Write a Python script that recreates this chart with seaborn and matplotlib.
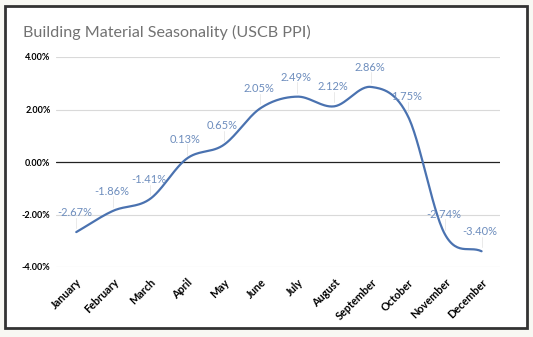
import numpy as np
import pandas as pd
import matplotlib
matplotlib.use("Agg")
import matplotlib.pyplot as plt
import seaborn as sns
from matplotlib.patches import Rectangle

months = ["January", "February", "March", "April", "May", "June", "July",
          "August", "September", "October", "November", "December"]
values = [-2.67, -1.86, -1.41, 0.13, 0.65, 2.05, 2.49, 2.12, 2.86, 1.75, -2.74, -3.40]
yticks = [-4, -2, 0, 2, 4]
ytick_labels = ["-4.00%", "-2.00%", "0.00%", "2.00%", "4.00%"]
title = "Building Material Seasonality (USCB PPI)"


def catmull_rom(x, y, n=30):
    x = np.asarray(x, float)
    y = np.asarray(y, float)
    px = np.concatenate([[2 * x[0] - x[1]], x, [2 * x[-1] - x[-2]]])
    py = np.concatenate([[2 * y[0] - y[1]], y, [2 * y[-1] - y[-2]]])
    xs, ys = [], []
    for i in range(1, len(px) - 2):
        t = np.linspace(0, 1, n, endpoint=(i == len(px) - 3))
        for p, out in ((px, xs), (py, ys)):
            p0, p1, p2, p3 = p[i - 1], p[i], p[i + 1], p[i + 2]
            out.append(0.5 * ((2 * p1) + (-p0 + p2) * t +
                              (2 * p0 - 5 * p1 + 4 * p2 - p3) * t ** 2 +
                              (-p0 + 3 * p1 - 3 * p2 + p3) * t ** 3))
    return np.concatenate(xs), np.concatenate(ys)


sns.set_theme(style="white")
plt.rcParams["font.family"] = ["Lato", "DejaVu Sans"]

fig = plt.figure(figsize=(5.33, 3.37), dpi=100)
fig.patch.set_facecolor("#f8f8f3")
fig.patches.append(Rectangle((5 / 533, 1 - 328 / 337), 522 / 533, 322 / 337,
                             transform=fig.transFigure, facecolor="white",
                             edgecolor="#333333", linewidth=2, zorder=-10))

ax = fig.add_axes([56 / 533, 1 - 267 / 337, 444 / 533, 210 / 337])
ax.set_zorder(5)
ax.set_facecolor("white")

xi = np.arange(len(months))
sx, sy = catmull_rom(xi, values)
df = pd.DataFrame({"x": sx, "y": sy})
sns.lineplot(data=df, x="x", y="y", ax=ax, color="#4a72b0", linewidth=1.6,
             sort=False, estimator=None)

for i, v in enumerate(values):
    ax.plot([i, i], [v + 0.15, v + 0.55], color="#e6e6e6", linewidth=0.6, zorder=1)
    ax.annotate(f"{v:.2f}%", (i, v), xytext=(-1, 14), textcoords="offset points",
                ha="center", va="center", fontsize=8, color="#6d8dbd", zorder=3)

ax.set_xlim(-0.55, 11.5)
ax.set_ylim(-4, 4)
ax.set_yticks(yticks)
ax.set_yticklabels(ytick_labels, fontsize=6.5, color="black", fontweight="bold")
ax.set_xticks(xi)
ax.set_xticklabels(months, rotation=45, ha="right", rotation_mode="anchor",
                   fontsize=7.8, fontweight="bold", color="black")
ax.tick_params(axis="y", length=0, pad=4)
ax.tick_params(axis="x", length=0, pad=7)
for yv in yticks:
    if yv != 0:
        ax.axhline(yv, color="#d9d9d9", linewidth=0.8, zorder=0)
ax.axhline(0, color="#222222", linewidth=0.9, zorder=1)
for s in ax.spines.values():
    s.set_visible(False)
ax.set_xlabel("")
ax.set_ylabel("")

fig.text(23 / 533, 1 - 32 / 337, title, fontsize=11.6, color="#727272",
         ha="left", va="center")

fig.savefig("out.png", dpi=100, facecolor=fig.get_facecolor())
